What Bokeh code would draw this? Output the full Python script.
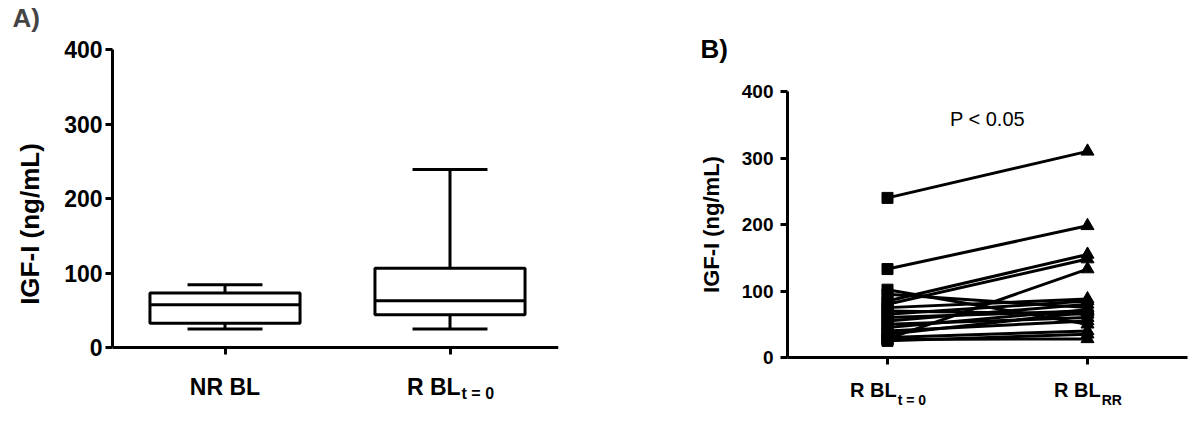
from bokeh.plotting import figure
from bokeh.layouts import row
from bokeh.models import FixedTicker, Label, ColumnDataSource
from bokeh.embed import file_html
from bokeh.resources import INLINE

FONT = "Liberation Sans"

# ---------------- Panel A data (box plots) ----------------
a_labels = ["NR BL", "R BL"]
a_subs = ["", "t = 0"]
a_pos = [0.5, 1.5]
a_min = [24.7, 24.7]
a_q1 = [32.7, 43.9]
a_med = [57.4, 62.8]
a_q3 = [73.1, 106.3]
a_max = [84.3, 239.0]

# ---------------- Panel B data (paired values) ----------------
b_labels = ["R BL", "R BL"]
b_subs = ["t = 0", "RR"]
b_pos = [0, 1]
b_t0 = [240, 133, 102, 85, 80, 28, 95, 75, 70, 65, 60, 55, 50, 45, 40, 35, 30, 25, 27]
b_rr = [310, 198, 50, 155, 148, 133, 75, 88, 65, 85, 70, 80, 60, 72, 55, 68, 40, 35, 28]

y_ticks = [0, 100, 200, 300, 400]
y_lo, y_hi = 0, 400

# ---------------- layout constants (pixels) ----------------
H = 425
TOP = 34
BOTTOM = 12
FRAME_TOP = TOP
FRAME_BOTTOM = H - BOTTOM

# Arial-bold advance widths (per 1000 em) for label centring
W = {" ": 278, "R": 722, "B": 722, "L": 611, "N": 722, "t": 333, "=": 584, "0": 556}


def text_w(s, size):
    return sum(W.get(c, 600) for c in s) * size / 1000.0


def y_range_for(px_top_val, px_zero):
    scale = (px_zero - px_top_val) / (y_hi - y_lo)
    return (y_lo - (FRAME_BOTTOM - px_zero) / scale,
            y_hi + (px_top_val - FRAME_TOP) / scale)


def style_axes(p, tick_size, label_size, tick_standoff, label_standoff, x_bounds):
    p.outline_line_color = None
    p.xgrid.visible = False
    p.ygrid.visible = False
    for ax in (p.xaxis, p.yaxis):
        ax.axis_line_width = 3
        ax.axis_line_color = "black"
        ax.major_tick_line_width = 3
        ax.major_tick_line_color = "black"
        ax.major_tick_out = 7
        ax.major_tick_in = 0
        ax.minor_tick_line_color = None
        ax.major_label_text_font = FONT
        ax.major_label_text_font_style = "bold"
        ax.major_label_text_color = "black"
        ax.axis_label_text_font = FONT
        ax.axis_label_text_font_style = "bold"
        ax.axis_label_text_color = "black"
    p.yaxis.ticker = FixedTicker(ticks=y_ticks)
    p.yaxis.bounds = (y_lo, y_hi)
    p.yaxis.major_label_text_font_size = tick_size
    p.yaxis.axis_label_text_font_size = label_size
    p.yaxis.major_label_standoff = tick_standoff
    p.yaxis.axis_label_standoff = label_standoff
    p.yaxis.axis_label = "IGF-I (ng/mL)"
    p.xaxis.fixed_location = 0
    p.xaxis.bounds = x_bounds
    p.xaxis.major_label_text_font_size = "1px"
    p.xaxis.major_label_standoff = 0


def add_cat_labels(p, positions, labels, subs, main_size, sub_size, y_off, sub_drop):
    for x, lab, sub in zip(positions, labels, subs):
        if sub:
            d = (text_w(lab, main_size) - text_w(sub, sub_size)) / 2.0
            p.add_layout(Label(x=x, y=0, x_offset=d, y_offset=y_off, text=lab,
                               text_align="right", text_baseline="top",
                               text_font=FONT, text_font_style="bold",
                               text_font_size=f"{main_size}px", text_color="black"))
            p.add_layout(Label(x=x, y=0, x_offset=d + 1, y_offset=y_off - sub_drop, text=sub,
                               text_align="left", text_baseline="top",
                               text_font=FONT, text_font_style="bold",
                               text_font_size=f"{sub_size}px", text_color="black"))
        else:
            p.add_layout(Label(x=x, y=0, y_offset=y_off, text=lab,
                               text_align="center", text_baseline="top",
                               text_font=FONT, text_font_style="bold",
                               text_font_size=f"{main_size}px", text_color="black"))


# ---------------- Panel A ----------------
A_W = 600
A_LEFT, A_RIGHT = 112, 558
A_XR = (0, 2 * (A_RIGHT - A_LEFT) / 450.0)
pA = figure(width=A_W, height=H, x_range=A_XR, y_range=y_range_for(49, 347),
            output_backend="svg", toolbar_location=None,
            min_border_left=A_LEFT, min_border_right=A_W - A_RIGHT,
            min_border_top=TOP, min_border_bottom=BOTTOM)
style_axes(pA, "23px", "26px", 3, 16, A_XR)
pA.xaxis.ticker = FixedTicker(ticks=a_pos)
pA.xaxis.major_label_overrides = {0.5: "", 1.5: ""}

box_w = 0.667
cap_w = 0.333
srcA = ColumnDataSource(dict(
    x=a_pos, lo=a_min, q1=a_q1, med=a_med, q3=a_q3, hi=a_max,
    left=[x - box_w / 2 for x in a_pos], right=[x + box_w / 2 for x in a_pos],
    cl=[x - cap_w / 2 for x in a_pos], cr=[x + cap_w / 2 for x in a_pos],
))
pA.segment(x0="x", y0="q3", x1="x", y1="hi", source=srcA, line_width=3, line_color="black")
pA.segment(x0="x", y0="lo", x1="x", y1="q1", source=srcA, line_width=3, line_color="black")
pA.segment(x0="cl", y0="hi", x1="cr", y1="hi", source=srcA, line_width=3, line_color="black")
pA.segment(x0="cl", y0="lo", x1="cr", y1="lo", source=srcA, line_width=3, line_color="black")
pA.quad(left="left", right="right", bottom="q1", top="q3", source=srcA,
        fill_color="white", line_color="black", line_width=3)
pA.segment(x0="left", y0="med", x1="right", y1="med", source=srcA, line_width=3, line_color="black")

add_cat_labels(pA, a_pos, a_labels, a_subs, 23, 16, -26, 11)

pA.title.text = "A)"
pA.title.text_font = FONT
pA.title.text_font_style = "bold"
pA.title.text_font_size = "26px"
pA.title.align = "left"
pA.title.offset = -(A_LEFT - 12)
pA.title.standoff = 0
pA.title.vertical_align = "top"

# ---------------- Panel B ----------------
B_W = 598
B_START = 600
B_AXIS = 787
B_LEFT = 90
B_RIGHT = 5
px_per_unit = 200.0
B_XR = ((B_START + B_LEFT - (B_AXIS + 100)) / px_per_unit,
        (B_START + B_W - B_RIGHT - (B_AXIS + 100)) / px_per_unit)
pB = figure(width=B_W, height=H, x_range=B_XR, y_range=y_range_for(91, 357),
            output_backend="svg", toolbar_location=None,
            min_border_left=B_LEFT, min_border_right=B_RIGHT,
            min_border_top=TOP, min_border_bottom=BOTTOM)
style_axes(pB, "19px", "22px", 7, 15, (-0.5, 1.5))
pB.yaxis.fixed_location = -0.5
pB.xaxis.ticker = FixedTicker(ticks=b_pos)
pB.xaxis.major_label_overrides = {0: "", 1: ""}

xs = [[b_pos[0], b_pos[1]] for _ in b_t0]
ys = [[a, b] for a, b in zip(b_t0, b_rr)]
pB.multi_line(xs=xs, ys=ys, line_color="black", line_width=3)
pB.scatter(x=[b_pos[0]] * len(b_t0), y=b_t0, marker="square", size=11,
           fill_color="black", line_color="black")
pB.scatter(x=[b_pos[1]] * len(b_rr), y=b_rr, marker="triangle", size=13,
           fill_color="black", line_color="black")

add_cat_labels(pB, b_pos, b_labels, b_subs, 20, 14, -21, 13)
pB.add_layout(Label(x=0.5, y=359, text="P < 0.05", text_align="center",
                    text_baseline="middle", text_font=FONT, text_font_size="20px",
                    text_color="black"))
pB.add_layout(Label(x=-0.5, y=400, x_offset=-87, y_offset=58, text="B)",
                    text_align="left", text_baseline="top", text_font=FONT,
                    text_font_style="bold", text_font_size="26px", text_color="black"))

layout = row(pA, pB)
open("out.html", "w").write(file_html(layout, INLINE))
